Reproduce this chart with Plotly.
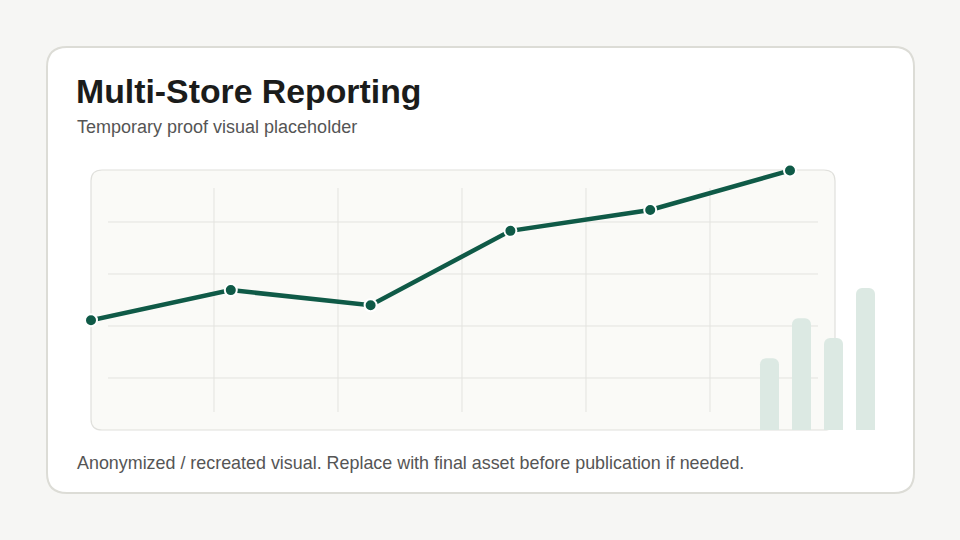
import plotly.graph_objects as go

# ---- data ----
periods = [0, 1, 2, 3, 4, 5]
trend_values = [21.1, 26.9, 24.0, 38.3, 42.3, 49.9]
bar_categories = [0, 1, 2, 3]
bar_values = [13.8, 21.5, 17.7, 27.3]

title_text = "Multi-Store Reporting"
subtitle_text = "Temporary proof visual placeholder"
footer_text = "Anonymized / recreated visual. Replace with final asset before publication if needed."

W, H = 960, 540
FONT = "Liberation Sans, Arial, sans-serif"
LINE_COLOR = "#0f5a47"
BAR_COLOR = "#dce9e3"


def px(x):
    return x / W


def py(y):
    return 1 - y / H


def rounded_rect(x0, y0, x1, y1, r):
    pts = [
        ("M", [(x0 + r, y0)]),
        ("L", [(x1 - r, y0)]),
        ("Q", [(x1, y0), (x1, y0 + r)]),
        ("L", [(x1, y1 - r)]),
        ("Q", [(x1, y1), (x1 - r, y1)]),
        ("L", [(x0 + r, y1)]),
        ("Q", [(x0, y1), (x0, y1 - r)]),
        ("L", [(x0, y0 + r)]),
        ("Q", [(x0, y0), (x0 + r, y0)]),
    ]
    s = ""
    for cmd, ps in pts:
        s += cmd + " " + " ".join(f"{px(a):.5f},{py(b):.5f}" for a, b in ps) + " "
    return s + "Z"


fig = go.Figure()

fig.add_trace(go.Bar(
    x=bar_categories, y=bar_values, xaxis="x2", yaxis="y2",
    marker=dict(color=BAR_COLOR, line=dict(width=0)),
    hoverinfo="skip", showlegend=False,
))

fig.add_trace(go.Scatter(
    x=periods, y=trend_values, mode="lines+markers",
    line=dict(color=LINE_COLOR, width=4.5),
    marker=dict(size=12, color=LINE_COLOR, line=dict(color="white", width=2)),
    cliponaxis=False, showlegend=False, hoverinfo="skip",
))

shapes = []
# card
shapes.append(dict(type="path", xref="paper", yref="paper", layer="below",
                   path=rounded_rect(47, 47, 914, 493, 20),
                   fillcolor="#ffffff", line=dict(color="#dcdcd6", width=2)))
# inner panel
shapes.append(dict(type="path", xref="paper", yref="paper", layer="below",
                   path=rounded_rect(91, 170, 835, 430, 11),
                   fillcolor="#fafaf7", line=dict(color="#e0e0dc", width=1.2)))
# grid
for gx in [214, 338, 462, 586, 710]:
    shapes.append(dict(type="line", xref="paper", yref="paper", layer="below",
                       x0=px(gx), x1=px(gx), y0=py(188), y1=py(412),
                       line=dict(color="#e3e3df", width=1)))
for gy in [222, 274, 326, 378]:
    shapes.append(dict(type="line", xref="paper", yref="paper", layer="below",
                       x0=px(108), x1=px(818), y0=py(gy), y1=py(gy),
                       line=dict(color="#e3e3df", width=1)))

annotations = [
    dict(text=f"<b>{title_text}</b>", x=px(74), y=py(91), xref="paper", yref="paper",
         xanchor="left", yanchor="middle", showarrow=False,
         font=dict(family=FONT, size=33.8, color="#1b1c1b")),
    dict(text=subtitle_text, x=px(74.5), y=py(127), xref="paper", yref="paper",
         xanchor="left", yanchor="middle", showarrow=False,
         font=dict(family=FONT, size=18, color="#555555")),
    dict(text=footer_text, x=px(74.5), y=py(462.5), xref="paper", yref="paper",
         xanchor="left", yanchor="middle", showarrow=False,
         font=dict(family=FONT, size=17.9, color="#555555")),
]

fig.update_layout(
    width=W, height=H, margin=dict(l=0, r=0, t=0, b=0),
    paper_bgcolor="#f6f6f4", plot_bgcolor="rgba(0,0,0,0)",
    shapes=shapes, annotations=annotations,
    bargap=0.406, barcornerradius=6,
    xaxis=dict(domain=[px(91), px(790)], range=[0, 5], visible=False, fixedrange=True),
    yaxis=dict(domain=[py(430), py(170)], range=[0, 50], visible=False, fixedrange=True),
    xaxis2=dict(domain=[px(753.5), px(881.5)], range=[-0.5, 3.5], visible=False,
                anchor="y2", fixedrange=True),
    yaxis2=dict(domain=[py(430), py(170)], range=[0, 50], visible=False,
                anchor="x2", fixedrange=True),
)

fig.write_html("out.html", config=dict(displayModeBar=False))
